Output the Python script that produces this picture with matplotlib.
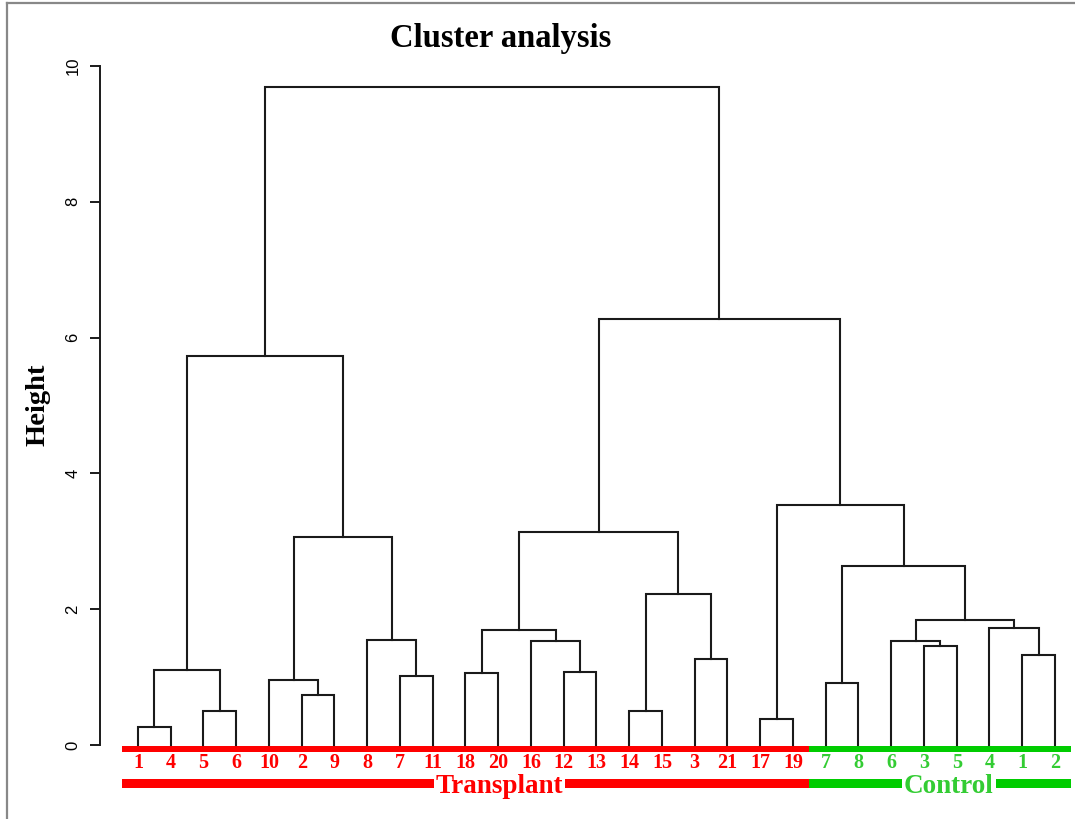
import matplotlib
matplotlib.use('Agg')
from matplotlib import pyplot as plt
from matplotlib.lines import Line2D

# leaf labels in dendrogram order, and the group each leaf belongs to
leafLabels = ['1', '4', '5', '6', '10', '2', '9', '8', '7', '11', '18', '20', '16', '12', '13',
              '14', '15', '3', '21', '17', '19',
              '7', '8', '6', '3', '5', '4', '1', '2']
leafGroups = ['Transplant'] * 21 + ['Control'] * 8

# merges, scipy style: ids < 29 are leaves (by position), ids >= 29 refer to earlier merges
mergeLeft = [0, 2, 29, 5, 4, 8, 7, 33, 31, 10, 13, 12, 38, 15, 17, 42, 41, 19, 21, 24, 23, 27, 26, 49, 47, 46, 45, 37]
mergeRight = [1, 3, 30, 6, 32, 9, 34, 35, 36, 11, 14, 39, 40, 16, 18, 43, 44, 20, 22, 25, 48, 28, 50, 51, 52, 53, 54, 55]
mergeHeight = [0.27, 0.50, 1.11, 0.74, 0.96, 1.02, 1.54, 3.07, 5.73, 1.06, 1.07, 1.53, 1.70, 0.50, 1.27,
               2.23, 3.13, 0.38, 0.91, 1.46, 1.53, 1.33, 1.72, 1.84, 2.64, 3.53, 6.27, 9.69]

groupNames = ['Transplant', 'Control']
groupColors = {'Transplant': '#ff0000', 'Control': '#00cc00'}
labelColors = {'Transplant': '#ff0000', 'Control': '#33cc33'}
groupTextPos = {'Transplant': 11.04, 'Control': 24.75}

yTicks = [0, 2, 4, 6, 8, 10]


def main():
    fig = plt.figure(figsize=(10.75, 8.19), dpi=100)
    ax = fig.add_axes([100 / 1075, 0.01575, 975 / 1075, 0.9534])
    ax.set_xlim(-1.160, 28.611)
    ax.set_ylim(-0.9, 10.6)

    nLeaves = len(leafLabels)
    xPos = {i: float(i) for i in range(nLeaves)}
    yPos = {i: 0.0 for i in range(nLeaves)}

    # draw the tree
    for k, (a, b, h) in enumerate(zip(mergeLeft, mergeRight, mergeHeight)):
        xa, xb = xPos[a], xPos[b]
        ax.plot([xa, xa, xb, xb], [yPos[a], h, h, yPos[b]], color='#1a1a1a', lw=1.5,
                solid_joinstyle='miter', solid_capstyle='projecting', zorder=2)
        xPos[nLeaves + k] = (xa + xb) / 2
        yPos[nLeaves + k] = h

    serif = 'Liberation Serif'

    # colored bars and leaf labels
    for i, (lab, grp) in enumerate(zip(leafLabels, leafGroups)):
        for y0, y1 in [(-0.11, -0.01), (-0.63, -0.50)]:
            ax.fill_between([i - 0.5, i + 0.5], y0, y1, color=groupColors[grp], lw=0, zorder=1)
        ax.text(i, -0.34, lab, color=labelColors[grp], fontsize=14.5, fontweight='bold',
                family=serif, ha='center', va='baseline')

    for grp in groupNames:
        ax.text(groupTextPos[grp], -0.71, grp, color=labelColors[grp], fontsize=19.5,
                fontweight='bold', family=serif, ha='center', va='baseline', zorder=3,
                bbox=dict(facecolor='white', edgecolor='none', pad=1.5))

    # axes styling
    for side in ['top', 'right', 'bottom']:
        ax.spines[side].set_visible(False)
    ax.spines['left'].set_bounds(0, 10)
    ax.spines['left'].set_linewidth(1.4)
    ax.spines['left'].set_color('#1a1a1a')
    ax.set_xticks([])
    ax.set_yticks(yTicks)
    ax.set_yticklabels([str(t) for t in yTicks], rotation=90, va='center',
                       family='Liberation Sans', fontsize=12)
    ax.tick_params(axis='y', length=7, width=1.4, pad=7, color='#1a1a1a')

    fig.text(501 / 1075, 1 - 38 / 819, 'Cluster analysis', family=serif, fontweight='bold',
             fontsize=23.5, ha='center', va='center')
    fig.text(38 / 1075, 1 - 405 / 819, 'Height', family=serif, fontweight='bold',
             fontsize=20.5, rotation=90, ha='center', va='center')

    # gray frame remnants at left and top
    fig.add_artist(Line2D([7 / 1075, 7 / 1075], [0, 1 - 3 / 819], color='#888888', lw=1.6))
    fig.add_artist(Line2D([7 / 1075, 1], [1 - 3 / 819, 1 - 3 / 819], color='#888888', lw=1.6))

    fig.savefig('out.png', dpi=100)


if __name__ == '__main__':
    main()
